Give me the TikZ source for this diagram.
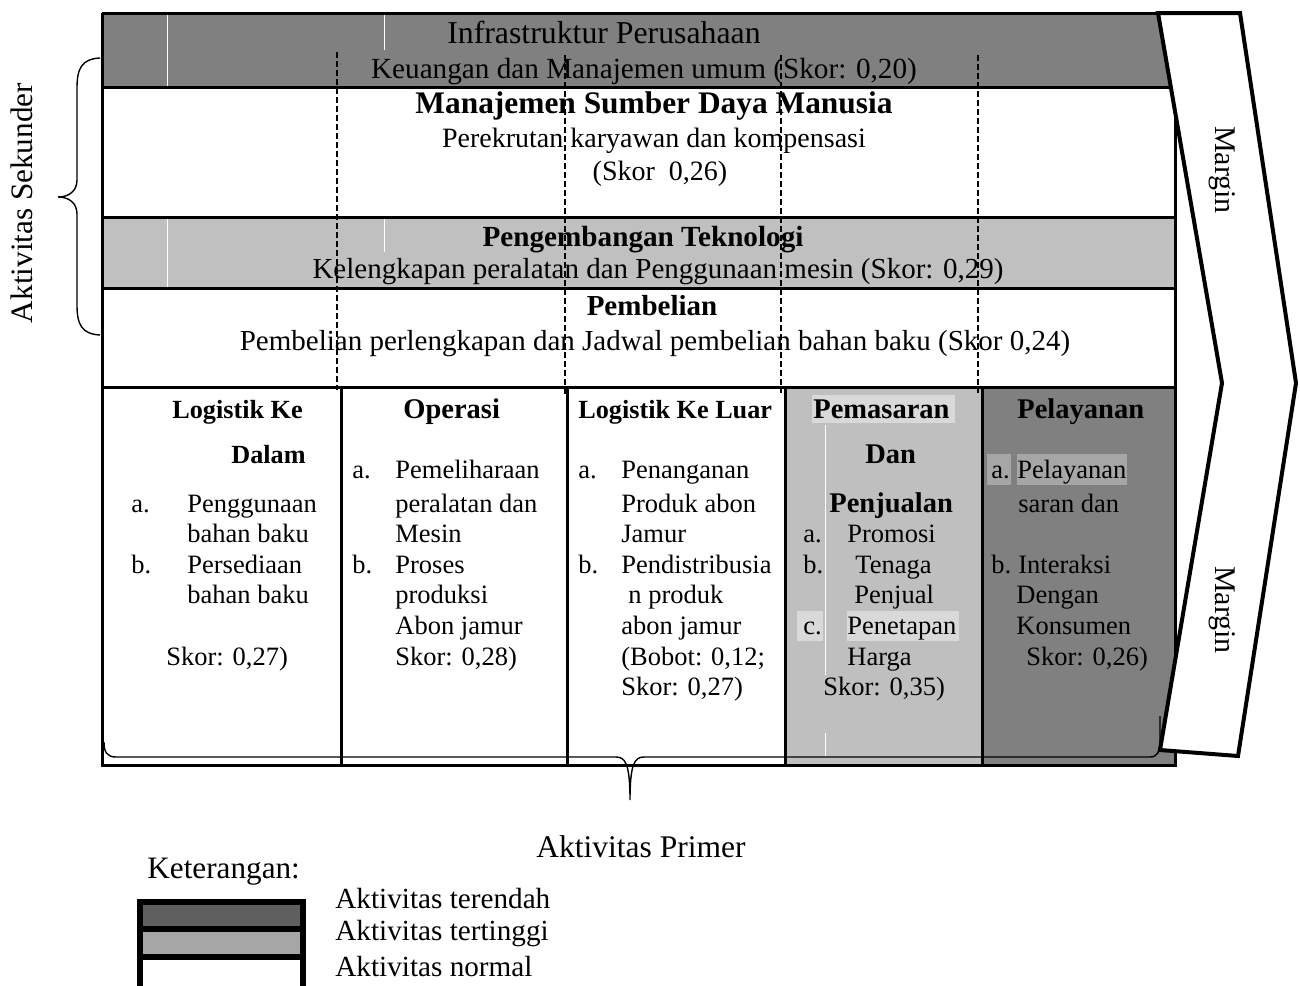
\documentclass[tikz,border=0pt]{standalone}
\usepackage{fontspec}
\setmainfont{Liberation Serif}
\definecolor{dkg}{HTML}{808080}
\definecolor{ltg}{HTML}{C0C0C0}
\definecolor{pmg}{HTML}{BFBFBF}
\definecolor{hlA}{HTML}{D9D9D9}
\definecolor{hlB}{HTML}{A6A6A6}
\definecolor{legD}{HTML}{5F5F5F}
\newcommand\fsz[1]{\fontsize{#1}{#1}\selectfont}
\begin{document}
\begin{tikzpicture}[x=0.5pt,y=-0.5pt,
  bx/.style={line width=1.5pt},
  dsh/.style={line width=0.7pt, dash pattern=on 3pt off 1.5pt},
  brc/.style={line width=0.7pt},
  pb/.style={inner sep=0pt, anchor=base west, font=\fsz{13.25}},
  ph/.style={inner sep=0pt, anchor=base west, font=\fsz{14.25}\bfseries},
  phs/.style={inner sep=0pt, anchor=base west, font=\fsz{13.1}\bfseries},
  sc/.style={inner sep=0pt, anchor=base, font=\fsz{14.5}},
  scb/.style={inner sep=0pt, anchor=base, font=\fsz{14.6}\bfseries},
  lg/.style={inner sep=0pt, anchor=base west, font=\fsz{14.6}},
  artf/.style={white, line width=0.5pt}]
\useasboundingbox (0,0) rectangle (1300,985);

% fills
\fill[dkg] (102,13) -- (1158,13) -- (1171,87) -- (102,87) -- cycle;
\fill[ltg] (102,217) rectangle (1175,288);
\fill[pmg] (785,387) rectangle (982,765);
\fill[dkg] (982,387) rectangle (1175,765);

% highlights
\fill[hlA] (812,395) rectangle (955,423);
\fill[hlA] (797,611) rectangle (823,641);
\fill[hlA] (847,611) rectangle (959,641);
\fill[hlB] (987,454) rectangle (1011,485);
\fill[hlB] (1017,454) rectangle (1127,485);

% artifacts
\draw[artf] (167,15) -- (167,86);
\draw[artf] (384,15) -- (384,50);
\draw[artf] (167,219) -- (167,287);
\draw[artf] (384,219) -- (384,252);
\draw[artf] (825,425) -- (825,675);
\draw[artf] (825,733) -- (825,757);
\draw[gray, line width=0.4pt] (636,52) -- (668,52);

% secondary texts
\node[sc, font=\fsz{15.9}] (infra) at (604,43) {Infrastruktur Perusahaan};
\node[sc, font=\fsz{14.6}] (keu) at (644,78) {Keuangan dan Manajemen umum (Skor: 0,20)};
\node[scb, font=\fsz{15.7}\bfseries] (msdm) at (654,113) {Manajemen Sumber Daya Manusia};
\node[sc, font=\fsz{14}] (rekrut) at (654,147) {Perekrutan karyawan dan kompensasi};
\node[sc, font=\fsz{14}] (skor26) at (660,180) {(Skor\ \ 0,26)};
\node[scb] (tek) at (643,246) {Pengembangan Teknologi};
\node[sc] (kel) at (658,278) {Kelengkapan peralatan dan Penggunaan mesin (Skor: 0,29)};
\node[scb, font=\fsz{14.5}\bfseries] (pemb) at (652,315) {Pembelian};
\node[sc] (pembl) at (655,350) {Pembelian perlengkapan dan Jadwal pembelian bahan baku (Skor 0,24)};

% column 1
\node[phs] (c1h1) at (172,418) {Logistik Ke};
\node[phs] (c1h2) at (231,463) {Dalam};
\node[pb] (c1a) at (131,512) {a.};
\node[pb] (c1a1) at (187,512) {Penggunaan};
\node[pb] (c1a2) at (187,542) {bahan baku};
\node[pb] (c1b) at (131,573) {b.};
\node[pb] (c1b1) at (187,573) {Persediaan};
\node[pb] (c1b2) at (187,603) {bahan baku};
\node[pb] (c1s) at (166,665) {Skor: 0,27)};

% column 2
\node[ph] (c2h) at (403,418) {Operasi};
\node[pb] (c2a) at (352,478) {a.};
\node[pb] (c2a1) at (395,478) {Pemeliharaan};
\node[pb] (c2a2) at (395,512) {peralatan dan};
\node[pb] (c2a3) at (395,542) {Mesin};
\node[pb] (c2b) at (352,573) {b.};
\node[pb] (c2b1) at (395,573) {Proses};
\node[pb] (c2b2) at (395,603) {produksi};
\node[pb] (c2b3) at (395,634) {Abon jamur};
\node[pb] (c2s) at (395,665) {Skor: 0,28)};

% column 3
\node[phs] (c3h) at (578,418) {Logistik Ke Luar};
\node[pb] (c3a) at (578,478) {a.};
\node[pb] (c3a1) at (621,478) {Penanganan};
\node[pb] (c3a2) at (621,512) {Produk abon};
\node[pb] (c3a3) at (621,542) {Jamur};
\node[pb] (c3b) at (578,573) {b.};
\node[pb] (c3b1) at (621,573) {Pendistribusia};
\node[pb] (c3b2) at (628,603) {n produk};
\node[pb] (c3b3) at (621,634) {abon jamur};
\node[pb] (c3b4) at (621,665) {(Bobot: 0,12;};
\node[pb] (c3s) at (621,695) {Skor: 0,27)};

% column 4
\node[ph] (c4h1) at (813,418) {Pemasaran};
\node[ph] (c4h2) at (865,463) {Dan};
\node[ph] (c4h3) at (829,512) {Penjualan};
\node[pb] (c4a) at (803,542) {a.};
\node[pb] (c4a1) at (847,542) {Promosi};
\node[pb] (c4b) at (803,573) {b.};
\node[pb] (c4b1) at (855,573) {Tenaga};
\node[pb] (c4b2) at (854,603) {Penjual};
\node[pb] (c4c) at (803,634) {c.};
\node[pb] (c4c1) at (847,634) {Penetapan};
\node[pb] (c4c2) at (847,665) {Harga};
\node[pb] (c4s) at (823,695) {Skor: 0,35)};

% column 5
\node[ph] (c5h) at (1017,418) {Pelayanan};
\node[pb] (c5a) at (991,478) {a.};
\node[pb] (c5a1) at (1017,478) {Pelayanan};
\node[pb] (c5a2) at (1018,512) {saran dan};
\node[pb] (c5b) at (991,573) {b.};
\node[pb] (c5b1) at (1018,573) {Interaksi};
\node[pb] (c5b2) at (1016,603) {Dengan};
\node[pb] (c5b3) at (1016,634) {Konsumen};
\node[pb] (c5s) at (1026,665) {Skor: 0,26)};

% box lines
\draw[bx] (102,13) -- (1158,13);
\draw[bx] (102,13) -- (102,765) -- (1175,765) -- (1175,87);
\draw[bx] (102,87) -- (1171,87);
\draw[bx] (102,217) -- (1175,217);
\draw[bx] (102,288) -- (1175,288);
\draw[bx] (102,387) -- (1175,387);
\foreach \cx in {341,567,785,982} \draw[bx] (\cx,387) -- (\cx,765);

% dashed guides
\draw[dsh] (337,52) -- (337,390);
\draw[dsh] (565,55) -- (565,397);
\draw[dsh] (781,55) -- (781,393);
\draw[dsh] (978,55) -- (978,393);

% primary brace
\draw[brc] (104,742) .. controls (104,752) and (107,757) .. (116,757) -- (616,757)
  .. controls (625,757) and (630,763) .. (630,800)
  .. controls (630,763) and (635,757) .. (644,757) -- (1150,757)
  .. controls (1157,757) and (1160,752) .. (1160,742) -- (1160,716);

% secondary brace
\draw[brc] (100,58) .. controls (82,59) and (77,68) .. (77,88) -- (77,180)
  .. controls (77,191) and (69,197) .. (58,197)
  .. controls (69,197) and (77,203) .. (77,214) -- (77,305)
  .. controls (77,325) and (82,334) .. (100,335);
\node[inner sep=0pt, font=\fsz{15.6}, rotate=90] (sek) at (22,203) {Aktivitas Sekunder};

% chevron
\draw[line width=2pt, fill=white, line join=miter] (1158,13) -- (1240,13) -- (1296,383)
  -- (1238,756) -- (1160,750) -- (1222,383) -- cycle;
\node[inner sep=0pt, font=\fsz{15}, rotate=-90] (mg1) at (1222,170) {Margin};
\node[inner sep=0pt, font=\fsz{15}, rotate=-90] (mg2) at (1222,610) {Margin};

% legend
\node[inner sep=0pt, anchor=base west, font=\fsz{15.75}] (prim) at (536,857) {Aktivitas Primer};
\node[inner sep=0pt, anchor=base west, font=\fsz{15.6}] (ket) at (147,878) {Keterangan:};
\draw[line width=3pt, fill=white] (140,957) rectangle (303,1000);
\draw[line width=3pt, fill=hlB] (140,929) rectangle (303,957);
\draw[line width=3pt, fill=legD] (140,902) rectangle (303,929);
\node[lg] (l1) at (335,908) {Aktivitas terendah};
\node[lg] (l2) at (335,940) {Aktivitas tertinggi};
\node[lg] (l3) at (335,976) {Aktivitas normal};
\end{tikzpicture}
\end{document}
